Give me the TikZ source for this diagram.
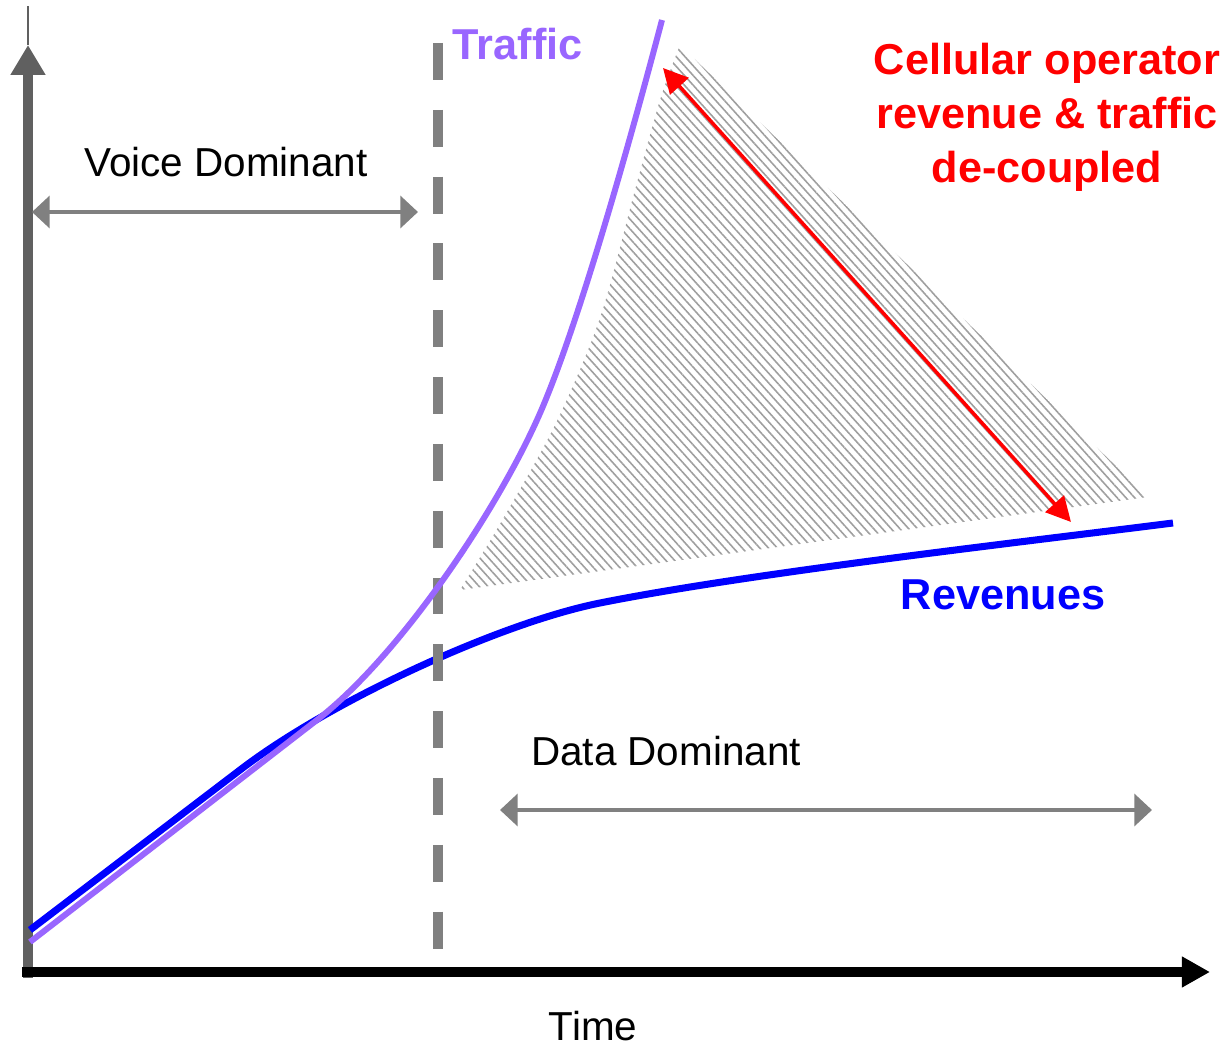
\documentclass[tikz,border=0pt]{standalone}
\usepackage{fontspec}
\setmainfont{Liberation Sans}
\usetikzlibrary{arrows.meta,patterns.meta,positioning}

\definecolor{trafficviolet}{RGB}{153,102,255}
\definecolor{axisgray}{RGB}{96,96,96}
\definecolor{spangray}{RGB}{128,128,128}

\begin{document}
\begin{tikzpicture}[x=0.01cm, y=-0.01cm,
    span/.style={draw=spangray, line width=1.2pt,
      {Triangle[length=5pt,width=9pt]}-{Triangle[length=5pt,width=9pt]}},
    lbl/.style={font=\fontsize{11.5}{14}\selectfont, inner sep=0pt},
    tag/.style={font=\fontsize{12.3}{15.4}\selectfont\bfseries, inner sep=0pt, align=center}]
  \useasboundingbox (0,0) rectangle (1226,1046);

  % gap between the two curves
  \fill[pattern={Lines[angle=-48,distance=1.85pt,line width=0.45pt]}, pattern color=gray!75]
    plot[smooth] coordinates {(460,590) (500,524) (555,425) (600,318) (635,190) (660,100) (680,45)}
    -- (1148,497) -- cycle;

  % axes
  \coordinate (origin) at (28,978);
  \coordinate (ytop) at (28,45);
  \coordinate (ytip) at (28,6);
  \coordinate (xstart) at (22,972);
  \coordinate (xend) at (1210,972);
  \draw[axisgray, line width=0.5pt] (ytop) -- (ytip);
  \draw[axisgray, line width=2.8pt, -{Triangle[length=8.5pt,width=9.4pt]}] (origin) -- (ytop);
  \draw[black, line width=3pt, -{Triangle[length=8pt,width=8.3pt]}] (xstart) -- (xend);

  % curves
  \draw[blue, line width=2pt] (30,930) -- (240,770)
    .. controls (330,701) and (500,623) .. (600,603)
    .. controls (750,573) and (1023,542) .. (1173,523);
  \coordinate (splittop) at (438,43);
  \coordinate (splitbot) at (438,955);
  \draw[spangray, line width=2.9pt, dash pattern=on 10.5pt off 8.5pt] (splittop) -- (splitbot);
  \draw[trafficviolet, line width=1.7pt] (30,942) -- (317,720)
    .. controls (397,658) and (492,519) .. (537,420)
    .. controls (577,332) and (632,134) .. (662,20);

  % labels
  \node[lbl, anchor=base] (voice) at (226,177) {Voice Dominant};
  \node[lbl, anchor=base] (data) at (666,766) {Data Dominant};
  \node[lbl, anchor=base] (time) at (593,1041) {Time};
  \node[tag, text=trafficviolet, anchor=base west] (traffic) at (452,60) {Traffic};
  \node[tag, text=blue, anchor=base] (revenues) at (1003,610) {Revenues};
  \node[tag, text=red, anchor=north] (decoupled) at (1047,42) {Cellular operator\\revenue \& traffic\\de-coupled};

  % spans
  \coordinate (voiceL) at (32,212);
  \coordinate (voiceR) at (418,212);
  \coordinate (dataL) at (500,810);
  \coordinate (dataR) at (1152,810);
  \draw[span] (voiceL) -- (voiceR);
  \draw[span] (dataL) -- (dataR);

  \coordinate (gaptop) at (663,68);
  \coordinate (gapbot) at (1071,522);
  \draw[red, line width=1pt, {Triangle[length=7pt,width=7pt]}-{Triangle[length=7pt,width=7pt]}] (gaptop) -- (gapbot);
\end{tikzpicture}
\end{document}
